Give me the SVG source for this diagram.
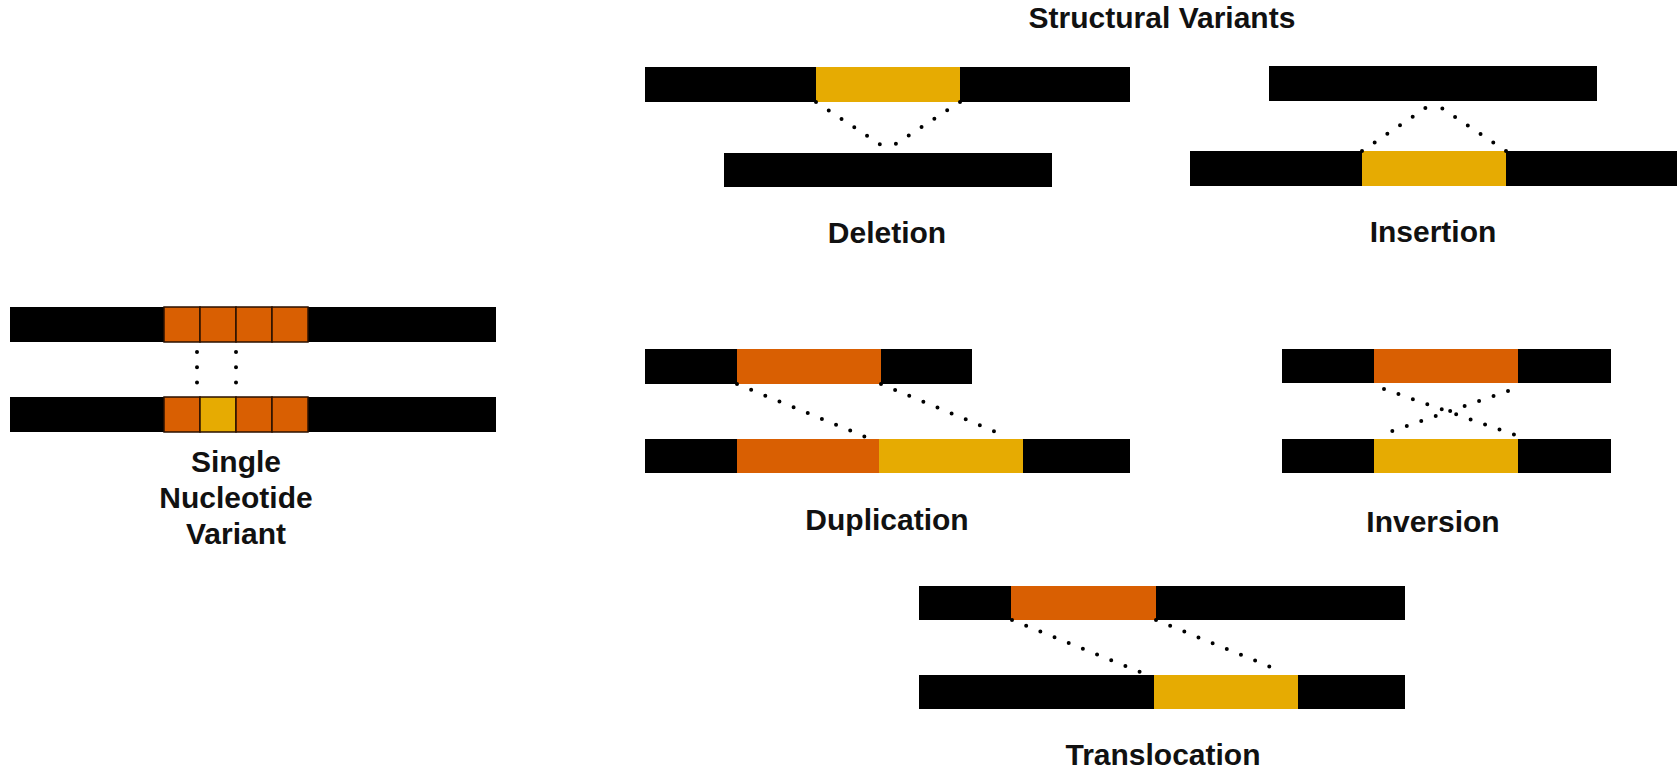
<svg xmlns="http://www.w3.org/2000/svg" width="1679" height="769" viewBox="0 0 1679 769">
<style>
.bar{fill:#000}
.or{fill:#d95f02}
.ye{fill:#e6ab02}
.cell{stroke:#2a1000;stroke-width:1.5}
.dot{fill:none;stroke:#000;stroke-width:4;stroke-linecap:round;stroke-dasharray:0 15.3}
.lbl{font-family:"Liberation Sans",Arial,sans-serif;font-weight:bold;font-size:30px;fill:#111;text-anchor:middle}
</style>
<rect width="1679" height="769" fill="#fff"/>
<text class="lbl" x="1162" y="28">Structural Variants</text>

<g id="snv">
<rect class="bar" x="10" y="307" width="486" height="35"/>
<rect class="or cell" x="164" y="307" width="36" height="35"/>
<rect class="or cell" x="200" y="307" width="36" height="35"/>
<rect class="or cell" x="236" y="307" width="36" height="35"/>
<rect class="or cell" x="272" y="307" width="36" height="35"/>
<rect class="bar" x="10" y="397" width="486" height="35"/>
<rect class="or cell" x="164" y="397" width="36" height="35"/>
<rect class="ye cell" x="200" y="397" width="36" height="35"/>
<rect class="or cell" x="236" y="397" width="36" height="35"/>
<rect class="or cell" x="272" y="397" width="36" height="35"/>
<text class="lbl" x="236" y="472">Single</text>
<text class="lbl" x="236" y="508">Nucleotide</text>
<text class="lbl" x="236" y="544">Variant</text>
</g>

<g id="deletion">
<rect class="bar" x="645" y="67" width="485" height="35"/>
<rect class="ye" x="816" y="67" width="144" height="35"/>
<rect class="bar" x="724" y="153" width="328" height="34"/>
<text class="lbl" x="887" y="243">Deletion</text>
</g>

<g id="insertion">
<rect class="bar" x="1269" y="66" width="328" height="35"/>
<rect class="bar" x="1190" y="151" width="487" height="35"/>
<rect class="ye" x="1362" y="151" width="144" height="35"/>
<text class="lbl" x="1433" y="242">Insertion</text>
</g>

<g id="duplication">
<rect class="bar" x="645" y="349" width="327" height="35"/>
<rect class="or" x="737" y="349" width="144" height="35"/>
<rect class="bar" x="645" y="439" width="485" height="34"/>
<rect class="or" x="737" y="439" width="142" height="34"/>
<rect class="ye" x="879" y="439" width="144" height="34"/>
<text class="lbl" x="887" y="530">Duplication</text>
</g>

<g id="inversion">
<rect class="bar" x="1282" y="349" width="329" height="34"/>
<rect class="or" x="1374" y="349" width="144" height="34"/>
<rect class="bar" x="1282" y="439" width="329" height="34"/>
<rect class="ye" x="1374" y="439" width="144" height="34"/>
<text class="lbl" x="1433" y="532">Inversion</text>
</g>

<g id="translocation">
<rect class="bar" x="919" y="586" width="486" height="34"/>
<rect class="or" x="1011" y="586" width="145" height="34"/>
<rect class="bar" x="919" y="675" width="486" height="34"/>
<rect class="ye" x="1154" y="675" width="144" height="34"/>
<text class="lbl" x="1163" y="765">Translocation</text>
</g>

<g id="connectors">
<path class="dot" d="M197 352 V397"/>
<path class="dot" d="M236 352 V397"/>
<path class="dot" d="M816 102 L881 145"/>
<path class="dot" d="M960 102 L894 145"/>
<path class="dot" d="M1362 151 L1427 107"/>
<path class="dot" d="M1506 151 L1440 107"/>
<path class="dot" d="M737 384 L878 442"/>
<path class="dot" d="M881 384 L1008 437"/>
<path class="dot" d="M1384 389 L1515 435"/>
<path class="dot" d="M1508 391 L1378 436"/>
<path class="dot" d="M1012 620 L1140 672"/>
<path class="dot" d="M1156 620 L1283 672"/>
</g>
</svg>
